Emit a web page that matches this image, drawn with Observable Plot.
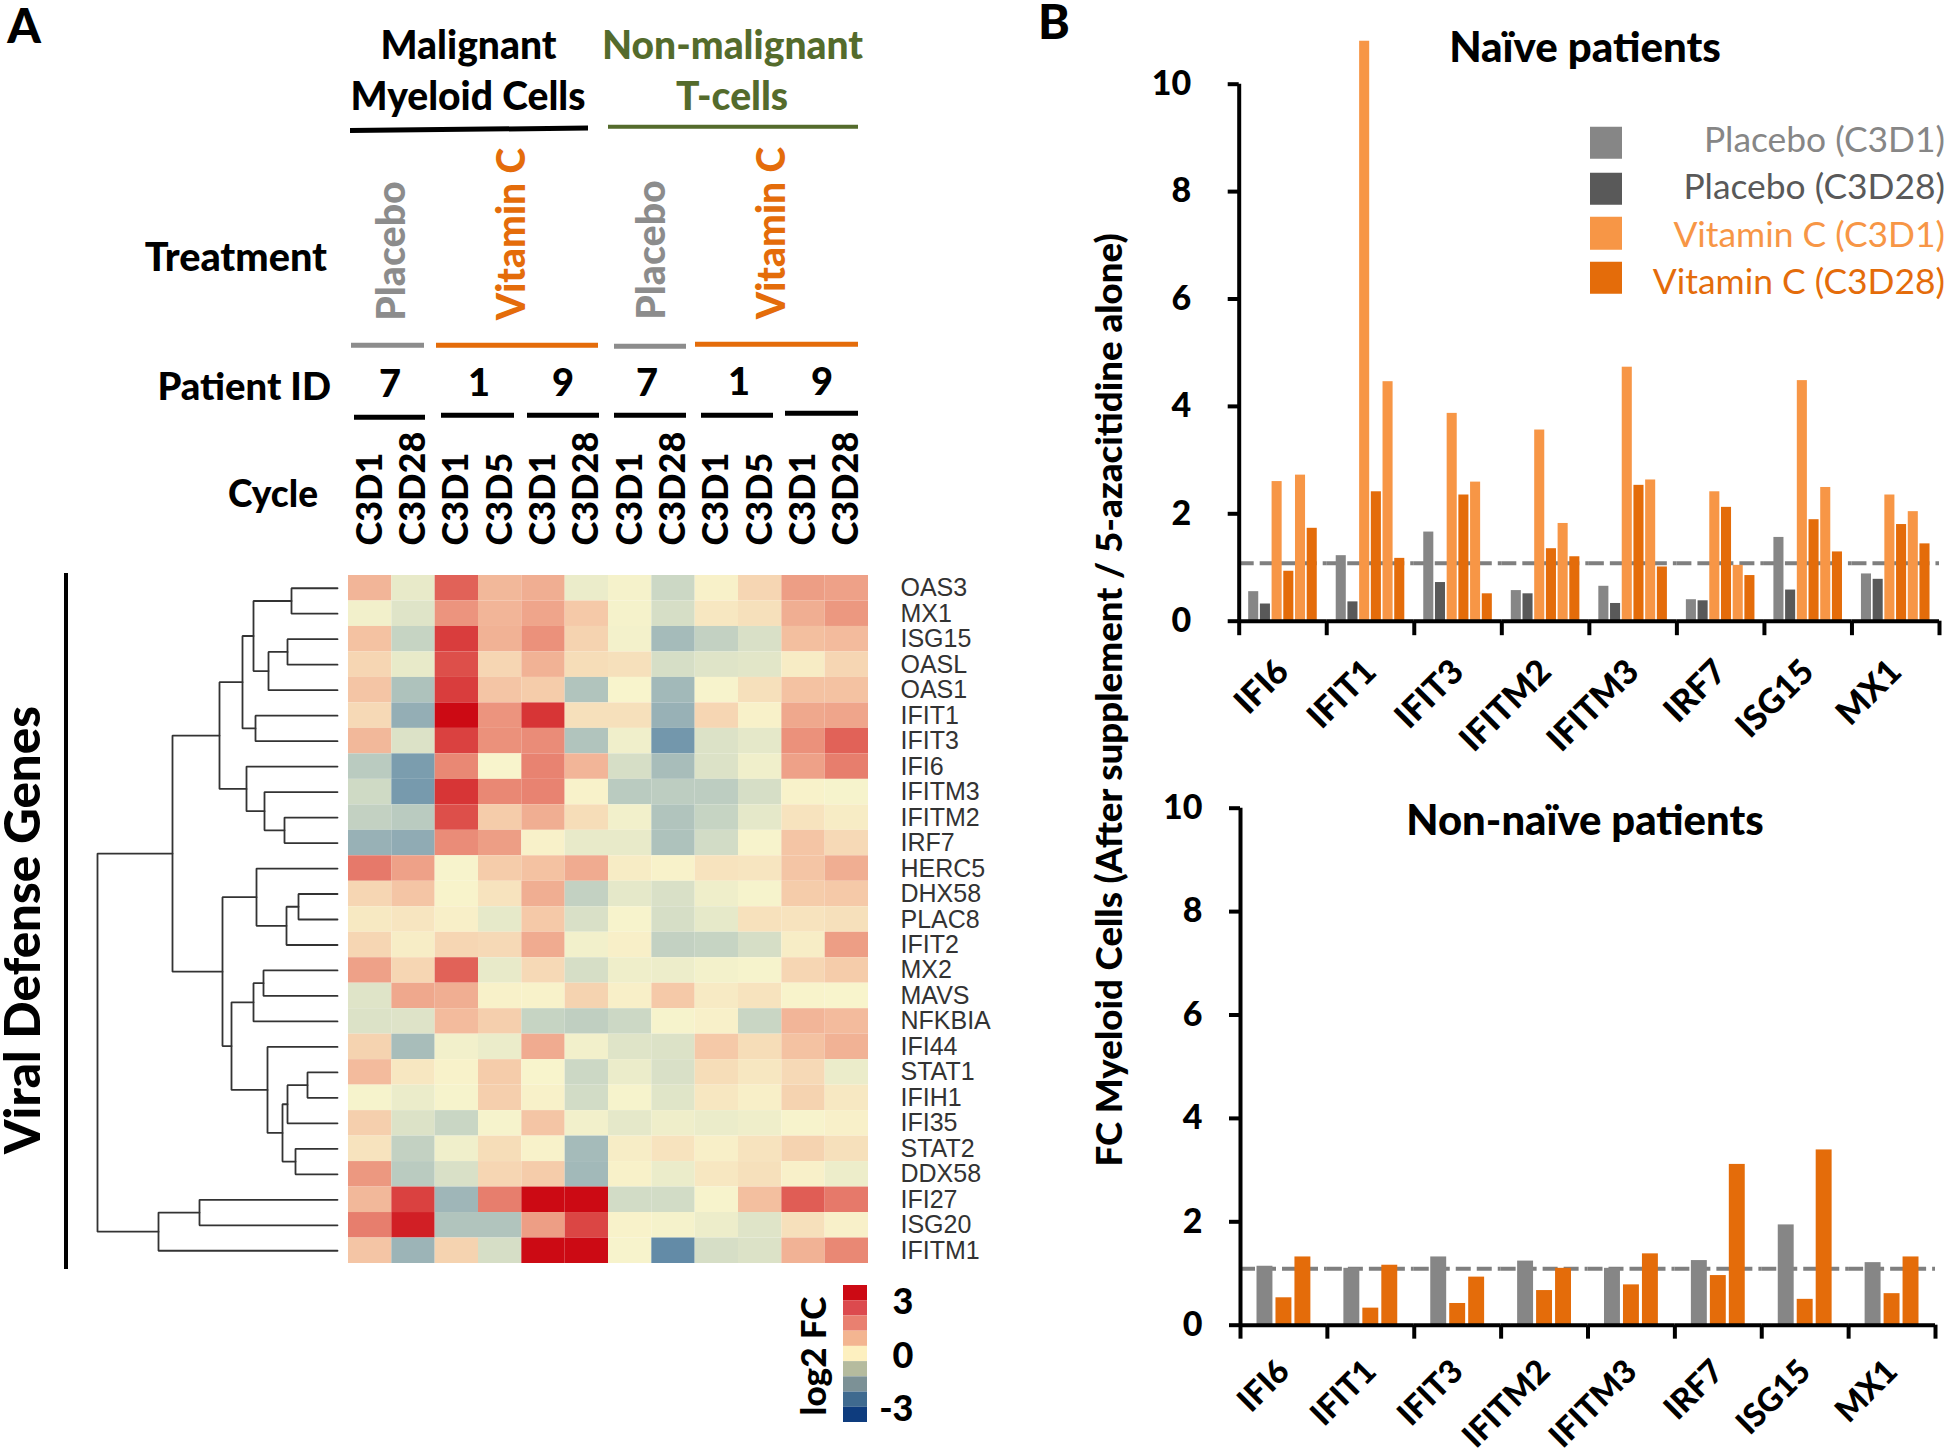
<!DOCTYPE html>
<html><head><meta charset="utf-8">
<script src="https://cdn.jsdelivr.net/npm/d3@7"></script>
<script src="https://cdn.jsdelivr.net/npm/@observablehq/plot@0.6"></script>
<style>
html,body{margin:0;padding:0;background:#fff}
#page{position:relative;width:1946px;height:1455px;overflow:hidden;font-family:Lato,sans-serif}
#page svg{position:absolute;overflow:visible;background:transparent}
.t{position:absolute;white-space:nowrap;line-height:1}
.r{position:absolute}
</style></head><body><div id="page"></div>
<script>
// ---------- Data ----------
const heatGenes = ["OAS3","MX1","ISG15","OASL","OAS1","IFIT1","IFIT3","IFI6","IFITM3","IFITM2","IRF7","HERC5","DHX58","PLAC8","IFIT2","MX2","MAVS","NFKBIA","IFI44","STAT1","IFIH1","IFI35","STAT2","DDX58","IFI27","ISG20","IFITM1"];
const heatColumns = ["M7-C3D1","M7-C3D28","M1-C3D1","M1-C3D5","M9-C3D1","M9-C3D28","T7-C3D1","T7-C3D28","T1-C3D1","T1-C3D5","T9-C3D1","T9-C3D28"];
const heatValues = [
[.95,-.25,2.0,.9,1.05,-.2,-.05,-.7,.05,.45,1.3,1.25],
[-.1,-.4,1.45,.95,1.2,.65,-.05,-.55,.2,.3,1.05,1.4],
[.75,-.8,2.4,1.0,1.5,.5,-.08,-1.35,-.85,-.5,.8,.85],
[.45,-.25,2.2,.45,1.0,.35,.3,-.55,-.4,-.35,.12,.45],
[.7,-1.2,2.4,.7,.6,-1.15,0,-1.4,-.02,.3,.75,.75],
[.4,-1.6,3,1.45,2.5,.3,.3,-1.55,.45,.05,1.15,1.2],
[.9,-.45,2.35,1.5,1.55,-1.15,-.12,-2.0,-.45,-.3,1.5,2.0],
[-1.0,-1.9,1.6,0,1.65,.95,-.55,-1.3,-.45,-.12,1.25,1.7],
[-.65,-1.95,2.5,1.6,1.65,.03,-1.0,-.95,-.95,-.55,.03,-.03],
[-.85,-1.0,2.2,.6,1.05,.35,-.1,-1.15,-.8,-.3,.25,.12],
[-1.55,-1.65,1.55,1.3,.05,-.25,-.25,-1.2,-.6,-.02,.7,.4],
[1.75,1.25,-.02,.6,.75,1.1,.12,.03,.25,.22,.7,1.05],
[.45,.7,.02,.25,1.05,-.85,-.3,-.5,-.15,-.03,.6,.65],
[.17,.22,.08,-.28,.65,-.5,-.02,-.55,-.28,.28,.25,.3],
[.45,.1,.45,.4,1.1,-.1,.08,-.85,-.8,-.55,.1,1.3],
[1.25,.45,2.0,-.25,.4,-.55,-.15,-.18,-.08,-.03,.45,.6],
[-.4,1.15,1.05,.05,.03,.5,.07,.65,.15,.25,.02,0],
[-.45,-.42,.85,.55,-.8,-.9,-.7,-.03,.06,-.75,.95,.85],
[.5,-1.3,-.1,-.2,1.1,-.1,-.4,-.45,.65,.35,.75,1.0],
[.85,.2,.03,.6,0,-.7,-.2,-.5,.35,.2,.4,-.2],
[-.03,-.2,-.03,.55,.05,-.6,-.03,-.38,.2,.07,.5,.18],
[.55,-.45,-.75,-.03,.7,-.1,-.3,-.15,-.2,-.15,-.02,.06],
[.25,-.85,-.12,.35,.03,-1.35,.1,.25,.07,.25,.5,.3],
[1.4,-1.0,-.5,.45,.6,-1.4,.05,-.2,.2,.3,.06,-.18],
[.9,2.35,-1.45,1.7,3,3,-.6,-.6,-.02,.8,2.05,1.75],
[1.7,2.75,-1.15,-1.15,1.3,2.3,.03,-.05,-.18,-.4,.3,.06],
[.7,-1.5,.5,-.55,3,3,-.02,-2.2,-.55,-.45,1.0,1.6]];
const colorLevels = [3,2.25,1.5,.75,0,-.75,-1.5,-2.25,-3];
const heatColors = ["#cc0a14","#dc4a47","#eb917b","#f4c2a2","#f8f4cc","#c9d6c4","#9cb4b7","#5f88a6","#0e3c7e"];
const legendColors = ["#cc0a14","#dc4a4e","#e98070","#f3b591","#fdf0c0","#b5bb9e","#7c9196","#3f6a8f","#0e3c7e"];
const legendTicks = [3,0,-3];
// Dendrogram merges: [id, child A, child B, height]
const merges = [
["a","OAS3","MX1",46],["b","ISG15","OASL",50],["c","b","OAS1",69],["d","a","c",84],
["e","IFIT1","IFIT3",82],["f","d","e",95],["g","IFITM2","IRF7",53],["h","IFITM3","g",73],
["i","IFI6","h",91],["j","f","i",118],["k","DHX58","PLAC8",39],["l","k","IFIT2",51],
["m","HERC5","l",81],["n","MX2","MAVS",74],["o","n","NFKBIA",84],["p","STAT1","IFIH1",30],
["q","p","IFI35",50],["r","STAT2","DDX58",42],["s","q","r",55],["u","IFI44","s",70],
["v","o","u",106],["w","m","v",115],["x","j","w",165],["y","IFI27","ISG20",138],
["z","y","IFITM1",179],["root","x","z",240]];
const barGenes = ["IFI6","IFIT1","IFIT3","IFITM2","IFITM3","IRF7","ISG15","MX1"];
const naiveSeries = ["Placebo (C3D1)","Placebo (C3D28)","Vitamin C (C3D1) a","Vitamin C (C3D28) a","Vitamin C (C3D1) b","Vitamin C (C3D28) b"];
const naiveColors = ["#868686","#595959","#f79646","#e46c0a","#f79646","#e46c0a"];
const naiveValues = [
[.55,.32,2.6,.93,2.72,1.73],[1.22,.36,10.8,2.41,4.46,1.17],[1.66,.72,3.87,2.35,2.59,.51],[.57,.51,3.56,1.35,1.82,1.2],
[.65,.33,4.73,2.53,2.63,1.01],[.4,.38,2.41,2.12,1.04,.85],[1.56,.58,4.48,1.89,2.49,1.29],[.88,.78,2.35,1.8,2.04,1.44]];
const nonNaiveSeries = ["Placebo","Vitamin C a","Vitamin C b"];
const nonNaiveColors = ["#868686","#e46c0a","#e46c0a"];
const nonNaiveValues = [
[1.14,.53,1.32],[1.1,.33,1.16],[1.32,.42,.93],[1.24,.67,1.1],[1.1,.78,1.38],[1.25,.96,3.11],[1.94,.5,3.39],[1.21,.61,1.32]];
const yTicks = [0,2,4,6,8,10];
const legendEntries = ["Placebo (C3D1)","Placebo (C3D28)","Vitamin C (C3D1)","Vitamin C (C3D28)"];
const legendEntryColors = ["#868686","#595959","#f79646","#e46c0a"];

// ---------- Helpers ----------
const page = document.getElementById("page");
const GREEN="#546b2c", ORANGE="#e46c0a", GRAY="#8c8c8c", BLACK=900;
function place(el,x,y){el.style.left=x+"px";el.style.top=y+"px";page.appendChild(el);}
function text(str,x,y,{size=38,weight=BLACK,color="#000",anchor="middle",rotate=0,lh=1}={}){
  const d=document.createElement("div");d.className="t";d.textContent=str;
  d.style.fontSize=size+"px";d.style.fontWeight=weight;d.style.color=color;d.style.lineHeight=lh;
  const tx=anchor==="middle"?"-50%":anchor==="end"?"-100%":"0";
  d.style.transform=`translate(${tx},-50%) rotate(${rotate}deg)`;
  place(d,x,y);
}
function rule(x1,x2,y,h,color,rot=0){
  const d=document.createElement("div");d.className="r";
  d.style.width=(x2-x1)+"px";d.style.height=h+"px";d.style.background=color;d.style.transform=`translateY(-50%) rotate(${rot}deg)`;
  place(d,x1,y);
}
function addPlot(p,x,y){p.style.left=x+"px";p.style.top=y+"px";page.appendChild(p);}

// ---------- Heatmap ----------
const heatCells = heatValues.flatMap((row,i)=>row.map((v,j)=>({gene:heatGenes[i],col:heatColumns[j],v})));
const HX=347.5,HY=574.7,HW=520,HH=688,HTOP=150;
addPlot(Plot.plot({
  width:HW+130,height:HH+HTOP,marginLeft:0,marginRight:130,marginTop:HTOP,marginBottom:0,
  style:{background:"transparent"},
  x:{domain:heatColumns,padding:0,round:false,axis:null},
  y:{domain:heatGenes,padding:0,round:false,axis:null},
  color:{type:"linear",domain:[...colorLevels].reverse(),range:[...heatColors].reverse(),interpolate:"rgb"},
  marks:[
    Plot.cell(heatCells,{x:"col",y:"gene",fill:"v"}),
    Plot.axisX({anchor:"top",tickSize:0,tickPadding:30,tickRotate:-90,label:null,tickFormat:d=>d.split("-")[1],
      fontFamily:"Lato",fontSize:36,fontWeight:BLACK,fill:"#000"}),
    Plot.axisY({anchor:"right",tickSize:0,tickPadding:32,label:null,fontFamily:"Liberation Sans",fontSize:25,fill:"#333"})
  ]}),HX,HY-HTOP);

// ---------- Dendrogram ----------
const nodes=new Map(heatGenes.map((g,i)=>[g,{d:0,y:i+.5}]));
const dendroLinks=[];
for(const [id,a,b,h] of merges){
  const A=nodes.get(a),B=nodes.get(b);
  nodes.set(id,{d:h,y:(A.y+B.y)/2});
  dendroLinks.push({id,d:A.d,y:A.y},{id,d:h,y:A.y},{id,d:h,y:B.y},{id,d:B.d,y:B.y});
}
addPlot(Plot.plot({
  width:240,height:HH,margin:0,style:{background:"transparent"},
  x:{domain:[240,0],axis:null},y:{domain:[0,27],reverse:true,axis:null},
  marks:[Plot.line(dendroLinks,{x:"d",y:"y",z:"id",stroke:"#333",strokeWidth:1.8,curve:"linear",strokeLinejoin:"miter"})]
}),96.5,HY);

// ---------- Colour legend ----------
const tickText={frameAnchor:"right",dx:46,textAnchor:"end",fontFamily:"Lato",fontSize:36,fontWeight:BLACK,fill:"#000",text:d=>String(d),y:d=>d};
addPlot(Plot.plot({
  width:80,height:137,marginLeft:0,marginRight:56,marginTop:0,marginBottom:0,style:{background:"transparent"},
  x:{axis:null},y:{type:"band",domain:colorLevels,padding:0,round:false,axis:null},
  color:{type:"identity"},
  marks:[
    Plot.cell(colorLevels,{y:d=>d,fill:(d,i)=>legendColors[i]}),
    Plot.text([legendTicks[0]],{...tickText,dy:9}),
    Plot.text([legendTicks[1]],{...tickText,dy:2}),
    Plot.text([legendTicks[2]],{...tickText,dy:-5})
  ]}),843,1285);
text("log2 FC",812,1356,{size:35,rotate:-90});

// ---------- Bar panels ----------
function barPanel({series,colors,values,left,axisX,rightX,zeroY,unitPx,inner,outer,lineY,tickPad,labelSize,labelPad,mb}){
  const rows=values.flatMap((r,i)=>r.map((v,j)=>({gene:barGenes[i],s:series[j],v,c:colors[j]})));
  const facetW=(rightX-axisX)/8,step=facetW/(series.length-inner+2*outer);
  const edge=outer*step+step*(1-inner)/2;
  const yMin=-.5,yMax=11,top=zeroY-yMax*unitPx,bot=zeroY-yMin*unitPx;
  const base={strokeWidth:4,stroke:"#000"};
  addPlot(Plot.plot({
    width:1946-left,height:bot-top+mb,marginLeft:axisX-left,marginRight:1946-rightX,marginTop:0,marginBottom:mb,
    style:{background:"transparent"},
    fx:{domain:barGenes,padding:0,round:false,axis:null,label:null},
    x:{domain:series,paddingInner:inner,paddingOuter:outer,round:false,axis:null},
    y:{domain:[yMin,yMax],axis:null},
    color:{type:"identity"},
    marks:[
      Plot.ruleY([lineY],{stroke:"#7f7f7f",strokeWidth:4,strokeDasharray:"15,6"}),
      Plot.barY(rows,{fx:"gene",x:"s",y:"v",fill:"c"}),
      Plot.ruleY([0],base),
      Plot.ruleX(barGenes,{fx:d=>d,x:()=>series[0],dx:-edge,y1:-.27,y2:0,...base}),
      Plot.ruleX(barGenes.slice(-1),{fx:d=>d,x:()=>series[series.length-1],dx:edge,y1:-.27,y2:0,...base}),
      Plot.ruleX(barGenes.slice(0,1),{fx:d=>d,x:()=>series[0],dx:-edge,y1:0,y2:10,...base}),
      Plot.axisY({anchor:"left",ticks:yTicks,tickSize:11,tickPadding:tickPad,label:null,strokeWidth:4,stroke:"#000",
        fontFamily:"Lato",fontSize:34,fontWeight:BLACK,fill:"#000",tickFormat:d=>String(d)}),
      Plot.axisFx({anchor:"bottom",tickSize:0,tickPadding:labelPad,tickRotate:-45,label:null,textAnchor:"end",dx:0,
        fontFamily:"Lato",fontSize:labelSize,fontWeight:BLACK,fill:"#000"})
    ]}),left,top);
}
barPanel({series:naiveSeries,colors:naiveColors,values:naiveValues,left:1120,axisX:1238.7,rightX:1939,zeroY:620.5,unitPx:53.7,inner:.14,outer:.81,lineY:1.08,tickPad:37,labelSize:34,labelPad:18,mb:140});
barPanel({series:nonNaiveSeries,colors:nonNaiveColors,values:nonNaiveValues,left:1120,axisX:1240,rightX:1935,zeroY:1325,unitPx:51.7,inner:.16,outer:.87,lineY:1.09,tickPad:27,labelSize:32.5,labelPad:15,mb:104});

// ---------- Legend for bars ----------
const lgY=[142.5,188.5,233,277.5], lgText=[139,186,234,281];
legendEntries.forEach((s,i)=>{
  const d=document.createElement("div");d.className="r";d.style.width="32px";d.style.height="32.5px";d.style.background=legendEntryColors[i];
  d.style.transform="translateY(-50%)";place(d,1590,lgY[i]);
  text(s,1945,lgText[i],{size:35.4,weight:400,color:legendEntryColors[i],anchor:"end"});
});

// ---------- Headers and labels ----------
text("A",24,24.5,{size:48,lh:.8});
text("B",1054,21,{size:48,lh:.8});
text("Malignant",468.5,44,{size:39});
text("Myeloid Cells",468,95,{size:39});
text("Non-malignant",732.5,44,{size:39,color:GREEN});
text("T-cells",732,95,{size:39,color:GREEN});
rule(350,588,128.8,4.5,"#000",-.55);
rule(608,858,126.5,4.5,GREEN);
text("Treatment",327,256,{size:39.6,anchor:"end"});
text("Placebo",390,250.5,{size:39.3,rotate:-90,color:GRAY});
text("Vitamin C",510,234,{size:39,rotate:-90,color:ORANGE});
text("Placebo",650,249.5,{size:39.3,rotate:-90,color:GRAY});
text("Vitamin C",770,233,{size:39,rotate:-90,color:ORANGE});
rule(351,424,345,4.5,GRAY);
rule(436,598,345,4.5,ORANGE);
rule(614,686,346,4.5,GRAY);
rule(695,858,344,4.5,ORANGE);
text("Patient ID",331,385,{size:38.2,anchor:"end"});
text("7",390,382);text("1",479,381);text("9",563,381);
text("7",647,381);text("1",739,380);text("9",822,380);
rule(354,425,417,4.5,"#000");rule(441,514,415,4.5,"#000");rule(527,599,415,4.5,"#000");
rule(614,686,415,4.5,"#000");rule(701,773,415,4.5,"#000");rule(785,858,413,4.5,"#000");
text("Cycle",318,492,{size:37,anchor:"end"});
text("Viral Defense Genes",22,930,{size:49.3,rotate:-90,lh:.72});
const vb=document.createElement("div");vb.className="r";vb.style.width="4px";vb.style.height="696px";vb.style.background="#000";place(vb,63.5,573);
text("Naïve patients",1585,45.5,{size:42});
text("Non-naïve patients",1585,820,{size:41.8});
text("FC Myeloid Cells (After supplement / 5-azacitidine alone)",1108,700,{size:36.7,rotate:-90});
</script></body></html>
